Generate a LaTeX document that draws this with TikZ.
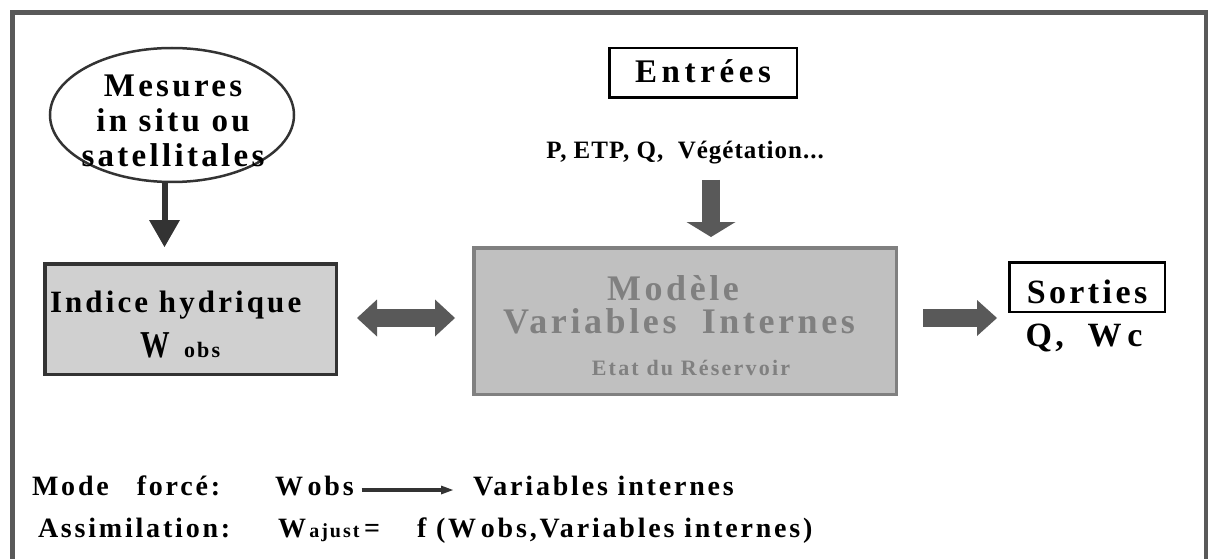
\documentclass[tikz,border=0pt]{standalone}
\usepackage{fontspec}
\setmainfont{Liberation Serif}
\newfontfamily\lsp{Liberation Serif}[LetterSpace=10]
\newfontfamily\lspw{Liberation Serif}[LetterSpace=14]
\newfontfamily\lspn{Liberation Serif}[LetterSpace=4]
\usetikzlibrary{arrows.meta,shapes.geometric}
\definecolor{dk}{RGB}{51,51,51}
\definecolor{fr}{RGB}{89,89,89}
\definecolor{lg}{RGB}{208,208,208}
\definecolor{mg}{RGB}{128,128,128}
\definecolor{bgm}{RGB}{192,192,192}
\begin{document}
\begin{tikzpicture}[x=1pt,y=-1pt,
  every node/.style={inner sep=0pt,outer sep=0pt},
  fs/.style={font=\lsp\bfseries\fontsize{#1}{#1}\selectfont},
  txt/.style={anchor=base,text=black},
  blk/.style={draw=fr,line width=18pt},
]
\useasboundingbox (0,0) rectangle (1208,559);
% frame
\draw[fr,line width=5pt] (12,565) -- (12,12.5) -- (1206,12.5) -- (1206,565);

% ellipse
\node[ellipse,draw=dk,line width=2.5pt,minimum width=244pt,minimum height=134pt] (mes) at (172,115) {};
\node[align=center,text=black,font=\lsp\bfseries\fontsize{33}{35}\selectfont] (mest) at (173,121) {Mesures\\ in situ ou\\satellitales};

% Indice hydrique
\node[draw=dk,fill=lg,line width=3.5pt,minimum width=291.5pt,minimum height=110.5pt] (ind) at (190.5,319) {};
\node[fs=31,anchor=base west,text=black] (indt) at (50,312) {Indice hydrique};
\node[fs=38,anchor=base west,text=black] (indw) at (140,357) {\scalebox{0.78}[1]{W}};
\node[fs=22,anchor=base west,text=black] (indo) at (184,357) {obs};

% arrow ellipse -> indice
\coordinate (ax) at (164.5,0);
\draw[dk,line width=6pt,-{Triangle[width=31pt,length=27pt,line width=0pt]},shorten >=16.75pt] (mes.south -| ax) -- (ind.north -| ax);

% Modele box
\node[draw=mg,fill=bgm,line width=3.5pt,minimum width=422.5pt,minimum height=146.5pt] (mod) at (685,321) {};
\node[fs=36,txt,text=mg] (modt1) at (673,300) {Modèle};
\node[fs=36,txt,text=mg] (modt2) at (679,333) {Variables\ \ Internes};
\node[fs=22,txt,text=mg] (modt3) at (691,375) {Etat du Réservoir};

% Entrees
\node[draw=black,line width=2.5pt,minimum width=187.5pt,minimum height=49.5pt,text height=20pt,text depth=0pt,font=\lspw\bfseries\fontsize{33}{33}\selectfont] (ent) at (703,73) {Entrées};
\node[font=\lspn\bfseries\fontsize{25}{25}\selectfont,txt] (pet) at (685,159) {P, ETP, Q,\ \ Végétation...};

% down arrow
\coordinate (dtop) at (711,180);
\draw[blk,-{Triangle[width=49pt,length=15pt,line width=0pt]},shorten >=10.75pt] (dtop) -- (dtop |- mod.north);

% double arrow
\coordinate (h318) at (0,318);
\draw[blk,{Triangle[width=37pt,length=20pt,line width=0pt]}-{Triangle[width=37pt,length=20pt,line width=0pt]},shorten <=20.75pt,shorten >=18.75pt] (ind.east |- h318) -- (mod.west |- h318);

% Sorties
\node[draw=black,line width=2.5pt,minimum width=155.5pt,minimum height=49.5pt,text height=32pt,text depth=0pt,fs=34] (sor) at (1087,287) {Sorties};
\node[fs=34,txt] (qwc) at (1084,346) {Q,\ \ W\,c};
\draw[blk,-{Triangle[width=36pt,length=20pt,line width=0pt]},shorten <=26.75pt,shorten >=12.25pt] (mod.east |- h318) -- (sor.west |- h318);

% bottom text
\node[fs=28,anchor=base west,text=black] (bm1) at (32,495) {Mode\hspace{28pt}forcé:};
\node[fs=28,anchor=base west,text=black] (bw1) at (275,495) {W\,obs};
\node[fs=28,anchor=base west,text=black] (bv1) at (473,495) {Variables internes};
\draw[dk,line width=4pt,-{Triangle[width=9pt,length=12pt,line width=0pt]}] ([xshift=8pt,yshift=5pt]bw1.base east) -- ([xshift=-20pt,yshift=5pt]bv1.base west);

\node[fs=28,anchor=base west,text=black] (ba) at (38,537) {Assimilation:};
\node[fs=28,anchor=base west,text=black] (bwa) at (278,537) {W{\fontsize{20}{20}\selectfont\,ajust}\,=};
\node[fs=28,anchor=base west,text=black] (bff) at (417,537) {f\ (W\,obs,Variables internes)};
\end{tikzpicture}
\end{document}
